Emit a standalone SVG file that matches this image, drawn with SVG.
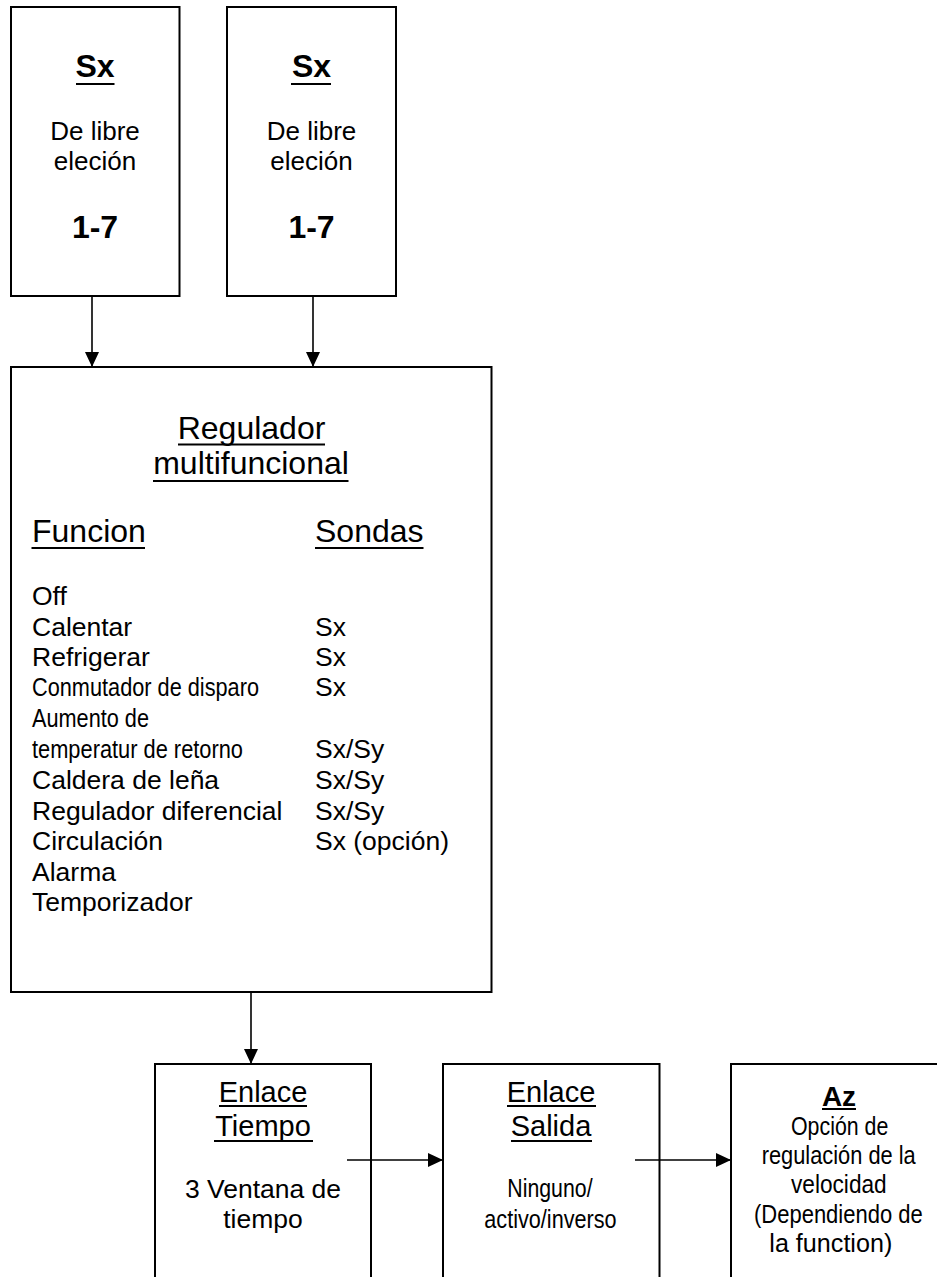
<svg xmlns="http://www.w3.org/2000/svg" width="937" height="1277" viewBox="0 0 937 1277">
<defs>
<marker id="arr" markerUnits="userSpaceOnUse" markerWidth="15" markerHeight="14" refX="15" refY="7" orient="auto">
<path d="M0,0 L15,7 L0,14 Z" fill="#000"/>
</marker>
<style>
.box{fill:#fff;stroke:#000;stroke-width:2}
.t{font-family:"Liberation Sans",Arial,sans-serif;fill:#000}
.c{text-anchor:middle}
.b{font-weight:bold}
.u{stroke:#000;stroke-width:2}
.con{stroke:#000;stroke-width:1.6;fill:none;marker-end:url(#arr)}
</style>
</defs>
<rect width="937" height="1277" fill="#fff"/>
<g id="sx1">
<rect class="box" x="11" y="7" width="168.5" height="289"/>
<text class="t c b" x="95" y="77" font-size="32">Sx</text>
<line class="u" x1="76" y1="84" x2="114.5" y2="84" stroke-width="2.5"/>
<text class="t c" x="95" y="140" font-size="26">De libre</text>
<text class="t c" x="95" y="170" font-size="26">eleción</text>
<text class="t c b" x="95" y="238" font-size="32">1-7</text>
</g>
<g id="sx2">
<rect class="box" x="227" y="7" width="169" height="289"/>
<text class="t c b" x="311.5" y="77" font-size="32">Sx</text>
<line class="u" x1="291" y1="84" x2="331" y2="84" stroke-width="2.5"/>
<text class="t c" x="311.5" y="140" font-size="26">De libre</text>
<text class="t c" x="311.5" y="170" font-size="26">eleción</text>
<text class="t c b" x="311.5" y="238" font-size="32">1-7</text>
</g>
<g id="regulador">
<rect class="box" x="11" y="367" width="480.5" height="625"/>
<text class="t c" x="251.5" y="439" font-size="32">Regulador</text>
<line class="u" x1="178" y1="444.5" x2="325" y2="444.5"/>
<text class="t c" x="251" y="474" font-size="32">multifuncional</text>
<line class="u" x1="153" y1="481" x2="348.5" y2="481"/>
<text class="t" x="32" y="542" font-size="32">Funcion</text>
<line class="u" x1="31.5" y1="548" x2="145" y2="548"/>
<text class="t" x="315" y="542" font-size="32">Sondas</text>
<line class="u" x1="315" y1="548" x2="423.5" y2="548"/>
<g class="t" font-size="26.5">
<text x="32" y="605">Off</text>
<text x="32" y="636">Calentar</text>
<text x="32" y="666">Refrigerar</text>
<text x="32" y="696" textLength="227" lengthAdjust="spacingAndGlyphs">Conmutador de disparo</text>
<text x="32" y="727" textLength="117" lengthAdjust="spacingAndGlyphs">Aumento de</text>
<text x="32" y="758" textLength="211" lengthAdjust="spacingAndGlyphs">temperatur de retorno</text>
<text x="32" y="789">Caldera de leña</text>
<text x="32" y="820">Regulador diferencial</text>
<text x="32" y="850">Circulación</text>
<text x="32" y="881">Alarma</text>
<text x="32" y="911">Temporizador</text>
<text x="315" y="636">Sx</text>
<text x="315" y="666">Sx</text>
<text x="315" y="696">Sx</text>
<text x="315" y="758">Sx/Sy</text>
<text x="315" y="789">Sx/Sy</text>
<text x="315" y="820">Sx/Sy</text>
<text x="315" y="850">Sx (opción)</text>
</g>
</g>
<g id="enlace-tiempo">
<rect class="box" x="155" y="1064" width="216" height="230"/>
<text class="t c" x="263" y="1102" font-size="29">Enlace</text>
<line class="u" x1="219" y1="1106" x2="307" y2="1106"/>
<text class="t c" x="263" y="1136" font-size="29">Tiempo</text>
<line class="u" x1="214" y1="1141" x2="313" y2="1141"/>
<text class="t c" x="263" y="1198" font-size="26.5">3 Ventana de</text>
<text class="t c" x="263" y="1228" font-size="26.5">tiempo</text>
</g>
<g id="enlace-salida">
<rect class="box" x="443" y="1064" width="216.5" height="230"/>
<text class="t c" x="551" y="1102" font-size="29">Enlace</text>
<line class="u" x1="507" y1="1106" x2="596" y2="1106"/>
<text class="t c" x="551" y="1136" font-size="29">Salida</text>
<line class="u" x1="511" y1="1141" x2="592" y2="1141"/>
<text class="t" x="507.3" y="1197" font-size="26" textLength="85.3" lengthAdjust="spacingAndGlyphs">Ninguno/</text>
<text class="t" x="484.3" y="1228" font-size="26" textLength="132.3" lengthAdjust="spacingAndGlyphs">activo/inverso</text>
</g>
<g id="az">
<rect class="box" x="731" y="1064" width="216" height="230"/>
<text class="t c b" x="839" y="1106" font-size="28">Az</text>
<line class="u" x1="822" y1="1109" x2="856" y2="1109"/>
<g class="t" font-size="26">
<text x="791" y="1135" textLength="97.3" lengthAdjust="spacingAndGlyphs">Opción de</text>
<text x="761.7" y="1164" textLength="154" lengthAdjust="spacingAndGlyphs">regulación de la</text>
<text x="791" y="1193" textLength="95.7" lengthAdjust="spacingAndGlyphs">velocidad</text>
<text x="754" y="1223" textLength="168.7" lengthAdjust="spacingAndGlyphs">(Dependiendo de</text>
<text x="769.3" y="1252" textLength="123" lengthAdjust="spacingAndGlyphs">la function)</text>
</g>
</g>
<g id="connectors">
<line class="con" x1="92" y1="296" x2="92" y2="367"/>
<line class="con" x1="313" y1="296" x2="313" y2="367"/>
<line class="con" x1="251" y1="992" x2="251" y2="1064"/>
<line class="con" x1="347" y1="1160" x2="443" y2="1160"/>
<line class="con" x1="635" y1="1160" x2="731" y2="1160"/>
</g>
</svg>
